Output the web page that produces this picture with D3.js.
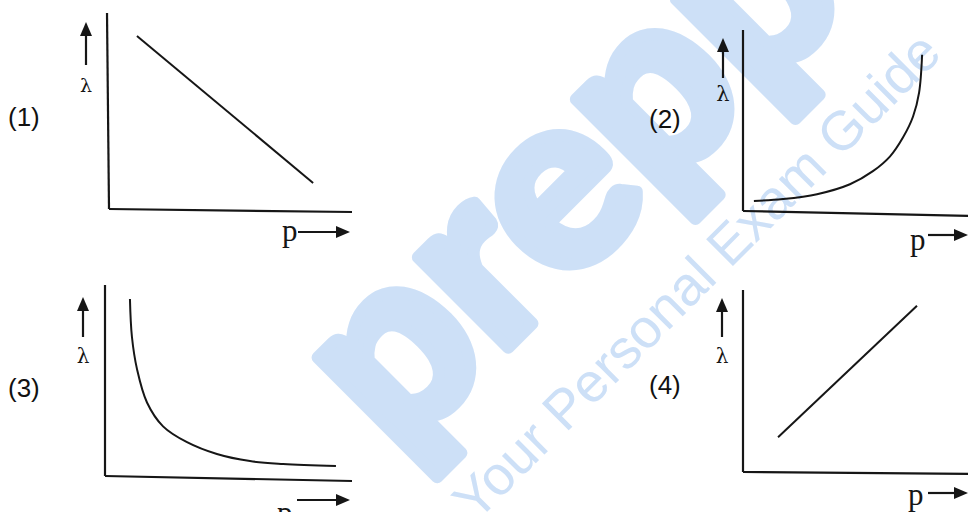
<!DOCTYPE html>
<html>
<head>
<meta charset="utf-8">
<script src="https://cdn.jsdelivr.net/npm/d3@7"></script>
<style>
body { margin: 0; background: #fff; }
svg { display: block; }
</style>
</head>
<body>
<script>
// option labels and axis names
var labels = ["(1)", "(2)", "(3)", "(4)"];
var xName = "p";
var yName = "\u03bb";

// curves in 0..10 units of each small plot: [p, lambda]
var curve1 = [[1.15, 8.83], [8.40, 1.33]];
var curve2 = [[0.47, 0.55], [1.72, 0.66], [3.19, 0.93], [4.61, 1.48], [5.60, 2.20],
              [6.34, 3.02], [6.90, 4.07], [7.33, 5.22], [7.59, 6.54], [7.72, 8.63]];
var curve3 = [[1.01, 9.27], [1.09, 7.29], [1.30, 5.57], [1.70, 3.85], [2.35, 2.60],
              [3.32, 1.77], [4.53, 1.15], [5.87, 0.78], [7.21, 0.63], [9.35, 0.52]];
var curve4 = [[1.51, 1.91], [7.50, 9.13]];
var curves = [curve1, curve2, curve3, curve4];

var watermark = "prepp";
var tagline = "Your Personal Exam Guide";

// where each small plot sits
var frames = [
    {ox: 109, oy: 209, top: 13, right: 352, drop: 3, lean: -2,
     lx: 8, ly: 126, ax: 86, aTip: 22, aBot: 65, lamY: 92, lamSize: 19,
     px: 282, pY: 241, arY: 232, ar1: 298, ar2: 350, smooth: false},
    {ox: 743, oy: 211, top: 30, right: 975, drop: 5, lean: 0,
     lx: 649, ly: 128, ax: 723, aTip: 38, aBot: 78, lamY: 101, lamSize: 21,
     px: 910, pY: 250, arY: 235, ar1: 928, ar2: 968, smooth: true},
    {ox: 105, oy: 476, top: 285, right: 352, drop: 5, lean: 0,
     lx: 8, ly: 397, ax: 83, aTip: 297, aBot: 337, lamY: 363, lamSize: 20,
     px: 277, pY: 523, arY: 500, ar1: 297, ar2: 350, smooth: true},
    {ox: 743, oy: 472, top: 290, right: 975, drop: 2, lean: 0,
     lx: 649, ly: 394, ax: 722, aTip: 298, aBot: 337, lamY: 363, lamSize: 20,
     px: 908, pY: 505, arY: 493, ar1: 928, ar2: 968, smooth: false}
];

var ink = "#161616";
var pale = "#cde0f7";

var svg = d3.select("body").append("svg")
    .attr("width", 968)
    .attr("height", 512);

svg.append("rect")
    .attr("width", 968)
    .attr("height", 512)
    .attr("fill", "#fff");

// light blue watermark behind everything
svg.append("text")
    .attr("transform", "translate(398,458) rotate(-45)")
    .attr("font-family", "Lato, 'Open Sans', sans-serif")
    .attr("font-weight", 900)
    .attr("font-size", 248)
    .attr("fill", pale)
    .attr("stroke", pale)
    .attr("stroke-width", 12)
    .attr("stroke-linejoin", "round")
    .text(watermark);

svg.append("text")
    .attr("transform", "translate(476,523) rotate(-45)")
    .attr("font-family", "'Liberation Sans', Arial, sans-serif")
    .attr("font-size", 55)
    .attr("fill", pale)
    .text(tagline);

frames.forEach(function(f, i) {
    var x = d3.scaleLinear().domain([0, 10]).range([f.ox, f.right]);
    var y = d3.scaleLinear().domain([0, 10]).range([f.oy, f.top]);
    var g = svg.append("g");

    // axes
    g.append("line")
        .attr("x1", x(0) + f.lean).attr("y1", y(10))
        .attr("x2", x(0)).attr("y2", y(0))
        .attr("stroke", ink).attr("stroke-width", 2.2);
    g.append("line")
        .attr("x1", x(0)).attr("y1", y(0))
        .attr("x2", x(10)).attr("y2", y(0) + f.drop)
        .attr("stroke", ink).attr("stroke-width", 2.2);

    // the curve
    var line = d3.line()
        .x(function(d) { return x(d[0]); })
        .y(function(d) { return y(d[1]); })
        .curve(f.smooth ? d3.curveCatmullRom : d3.curveLinear);
    g.append("path")
        .attr("d", line(curves[i]))
        .attr("fill", "none")
        .attr("stroke", ink)
        .attr("stroke-width", 2);

    // lambda with up arrow
    g.append("line")
        .attr("x1", f.ax).attr("y1", f.aBot)
        .attr("x2", f.ax).attr("y2", f.aTip + 10)
        .attr("stroke", ink).attr("stroke-width", 2.2);
    g.append("path")
        .attr("d", "M" + f.ax + "," + f.aTip + "L" + (f.ax - 6) + "," + (f.aTip + 14) +
            "L" + (f.ax + 6) + "," + (f.aTip + 14) + "Z")
        .attr("fill", ink);
    g.append("text")
        .attr("x", f.ax).attr("y", f.lamY)
        .attr("text-anchor", "middle")
        .attr("font-family", "'DejaVu Serif', 'Liberation Serif', serif")
        .attr("font-size", f.lamSize)
        .attr("fill", ink)
        .text(yName);

    // p with right arrow
    g.append("text")
        .attr("x", f.px).attr("y", f.pY)
        .attr("font-family", "'Liberation Serif', 'DejaVu Serif', serif")
        .attr("font-size", 31)
        .attr("fill", ink)
        .text(xName);
    g.append("line")
        .attr("x1", f.ar1).attr("y1", f.arY)
        .attr("x2", f.ar2 - 10).attr("y2", f.arY)
        .attr("stroke", ink).attr("stroke-width", 2.2);
    g.append("path")
        .attr("d", "M" + f.ar2 + "," + f.arY + "L" + (f.ar2 - 14) + "," + (f.arY - 6) +
            "L" + (f.ar2 - 14) + "," + (f.arY + 6) + "Z")
        .attr("fill", ink);

    // option number
    svg.append("text")
        .attr("x", f.lx).attr("y", f.ly)
        .attr("font-family", "'Liberation Sans', Arial, sans-serif")
        .attr("font-size", 26)
        .attr("fill", "#111")
        .text(labels[i]);
});
</script>
</body>
</html>
